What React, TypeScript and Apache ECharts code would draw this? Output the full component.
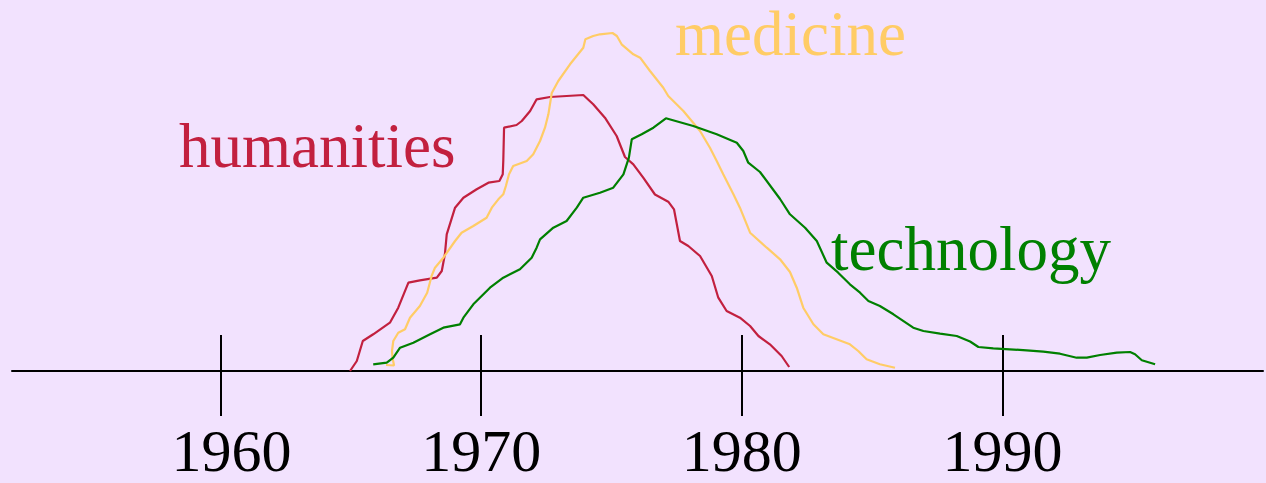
import React, { useEffect, useRef } from "react";
import * as echarts from "echarts";

// Years on the time axis that carry a tick and a label
const tickYears = [1960, 1970, 1980, 1990];

// Series: [year, relative activity]
const humanities: [number, number][] = [
  [1964.97, 0], [1965.23, 10], [1965.46, 30], [1965.86, 36.7], [1966.5, 48.3],
  [1966.82, 63.3], [1967.21, 88.3], [1967.65, 90.7], [1968.3, 93.3], [1968.49, 100],
  [1968.61, 116.7], [1968.68, 136.7], [1969.0, 163.3], [1969.32, 173.3], [1969.83, 181.7],
  [1970.28, 188.3], [1970.7, 190], [1970.83, 196.7], [1970.85, 210], [1970.88, 243.3],
  [1971.36, 246], [1971.56, 250], [1971.88, 260], [1972.13, 271.7], [1972.64, 274],
  [1973.92, 276], [1974.3, 266.7], [1974.75, 253.3], [1975.2, 235], [1975.52, 214],
  [1975.84, 206.7], [1976.22, 193.3], [1976.67, 176.5], [1977.18, 169.3], [1977.4, 161.7],
  [1977.5, 148], [1977.63, 130], [1977.95, 125], [1978.4, 115], [1978.85, 95],
  [1979.1, 73.3], [1979.42, 60], [1979.93, 53.3], [1980.32, 45], [1980.64, 35],
  [1981.08, 26.7], [1981.53, 15], [1981.82, 4],
];

const medicine: [number, number][] = [
  [1966.35, 6], [1966.66, 5.5], [1966.6, 13], [1966.58, 20], [1966.63, 30],
  [1966.82, 38.3], [1967.08, 41.7], [1967.27, 53.3], [1967.65, 65], [1967.93, 78.3],
  [1968.1, 95], [1968.23, 103.3], [1968.55, 113.3], [1969.0, 130], [1969.25, 138.3],
  [1969.7, 145], [1970.21, 153.3], [1970.41, 163.3], [1970.66, 171.7], [1970.85, 176.7],
  [1970.95, 185], [1971.07, 196.7], [1971.23, 205], [1971.75, 210], [1972.0, 216.7],
  [1972.26, 230], [1972.45, 243.3], [1972.58, 256.7], [1972.71, 278], [1972.96, 290],
  [1973.41, 306.7], [1973.92, 323.3], [1974.0, 331.7], [1974.3, 335], [1974.56, 336.7],
  [1975.04, 338], [1975.21, 335], [1975.39, 326.7], [1975.84, 316.7], [1976.1, 313.3],
  [1976.48, 300], [1976.99, 283.3], [1977.18, 275], [1977.76, 260], [1978.4, 240],
  [1978.78, 223.3], [1979.04, 210], [1979.29, 196.7], [1979.68, 176.7], [1979.93, 163.3],
  [1980.32, 138.3], [1980.96, 123.3], [1981.47, 111.7], [1981.85, 99], [1982.11, 83.3],
  [1982.36, 63.3], [1982.75, 46.7], [1983.13, 36.7], [1983.64, 31.7], [1984.15, 26.7],
  [1984.47, 20], [1984.79, 11.7], [1985.3, 6.7], [1985.88, 3.3],
];

const technology: [number, number][] = [
  [1965.86, 6.7], [1966.38, 8.3], [1966.63, 13.3], [1966.89, 23.3], [1967.4, 28.3],
  [1968.04, 36.7], [1968.55, 43.3], [1969.19, 46.7], [1969.32, 53.3], [1969.7, 66.7],
  [1970.34, 83.3], [1970.85, 93.3], [1971.49, 101.7], [1971.94, 113.3], [1972.13, 123.3],
  [1972.26, 131.7], [1972.77, 143.3], [1973.28, 150], [1973.67, 163.3], [1973.92, 173.3],
  [1974.56, 178.3], [1975.07, 183.3], [1975.46, 196.7], [1975.67, 213.3], [1975.78, 231.7],
  [1976.16, 236.7], [1976.61, 243.3], [1977.09, 252.7], [1978.14, 245], [1979.04, 236.7],
  [1979.81, 228.3], [1980.06, 220], [1980.25, 208.3], [1980.7, 199], [1981.47, 172],
  [1981.85, 156.7], [1982.43, 143.3], [1982.88, 130], [1983.26, 108.3], [1983.7, 98.3],
  [1984.15, 86.7], [1984.54, 78.3], [1984.86, 70], [1985.3, 65], [1985.82, 56.7],
  [1986.58, 43.3], [1986.97, 40], [1987.61, 37.3], [1988.25, 35], [1988.76, 29.5],
  [1989.08, 24], [1989.65, 22.7], [1990.93, 20.7], [1991.57, 19.3], [1992.21, 17.3],
  [1992.85, 13.3], [1993.24, 13.3], [1993.75, 16], [1994.39, 18.3], [1994.9, 19],
  [1995.09, 16.7], [1995.35, 10.7], [1995.86, 6.7],
];

const seriesNames = ["humanities", "medicine", "technology"];
const seriesColors = ["#C2203F", "#FFCC66", "#008000"];

const SERIF = "'Liberation Serif', 'Times New Roman', 'DejaVu Serif', serif";

export default function App() {
  const ref = useRef<HTMLDivElement>(null);

  useEffect(() => {
    if (!ref.current) return;
    const chart = echarts.init(ref.current, undefined, { renderer: "svg" });
    const datasets = [humanities, medicine, technology];

    const labelStyle = {
      color: "#000",
      fontSize: 60,
      lineHeight: 50,
      fontFamily: SERIF,
    };

    chart.setOption({
      animation: false,
      backgroundColor: "#F2E2FE",
      grid: { left: 12, right: 3, top: 0, bottom: 112 },
      xAxis: [
        {
          type: "value",
          min: 1952,
          max: 2000,
          position: "bottom",
          axisLine: { show: true, lineStyle: { color: "#000", width: 2 } },
          axisTick: {
            show: true,
            inside: false,
            length: 45,
            customValues: tickYears,
            lineStyle: { color: "#000", width: 2 },
          },
          axisLabel: {
            show: true,
            customValues: tickYears,
            margin: 55,
            ...labelStyle,
            formatter: (v: number) =>
              v === tickYears[0] ? `{first|${v}}` : `{std|${v}}`,
            rich: {
              std: { ...labelStyle },
              first: { ...labelStyle, padding: [0, 0, 0, 22] },
            },
          },
          splitLine: { show: false },
        },
        {
          type: "value",
          min: 1952,
          max: 2000,
          position: "bottom",
          axisLine: { show: false },
          axisTick: {
            show: true,
            inside: true,
            length: 36,
            customValues: tickYears,
            lineStyle: { color: "#000", width: 2 },
          },
          axisLabel: { show: false },
          splitLine: { show: false },
        },
      ],
      yAxis: {
        type: "value",
        min: 0,
        max: 371,
        show: false,
        splitLine: { show: false },
      },
      series: datasets.map((d, i) => ({
        name: seriesNames[i],
        type: "line",
        xAxisIndex: 0,
        data: d,
        showSymbol: false,
        smooth: false,
        lineStyle: { color: seriesColors[i], width: 2.2 },
        itemStyle: { color: seriesColors[i] },
      })),
      graphic: [
        {
          type: "text",
          left: 179,
          top: 114,
          style: { text: "humanities", fill: seriesColors[0], font: `63px ${SERIF}` },
        },
        {
          type: "text",
          left: 675,
          top: 2,
          style: { text: "medicine", fill: seriesColors[1], font: `63px ${SERIF}` },
        },
        {
          type: "text",
          left: 831,
          top: 217,
          style: { text: "technology", fill: seriesColors[2], font: `63px ${SERIF}` },
        },
      ],
    });

    return () => chart.dispose();
  }, []);

  return (
    <div
      ref={ref}
      style={{ position: "fixed", left: 0, top: 0, width: 1266, height: 483 }}
    />
  );
}
